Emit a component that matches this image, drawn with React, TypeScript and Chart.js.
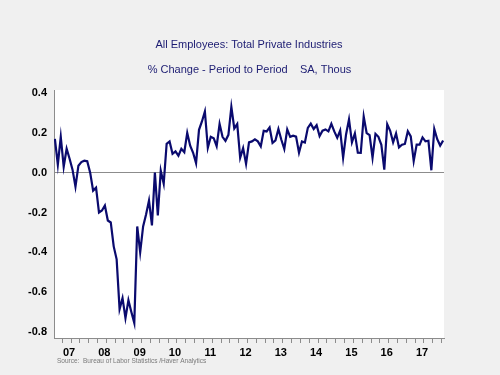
import React, { useEffect, useRef } from 'react';
import { Chart, registerables } from 'chart.js';

Chart.register(...registerables);

const TITLE = 'All Employees: Total Private Industries';
const SUBTITLE = '% Change - Period to Period    SA, Thous';
const SOURCE = 'Source:  Bureau of Labor Statistics /Haver Analytics';

const yearLabels = ['07', '08', '09', '10', '11', '12', '13', '14', '15', '16', '17'];
const yTickValues = [-0.8, -0.6, -0.4, -0.2, 0, 0.2, 0.4];

// Monthly % change, Jan 2007 onward
const y2007 = [0.17, 0.04, 0.18, 0.03, 0.12, 0.07, 0.015, -0.07, 0.035, 0.053, 0.06, 0.057];
const y2008 = [0.0, -0.09, -0.075, -0.2, -0.19, -0.165, -0.24, -0.25, -0.37, -0.435, -0.685, -0.63];
const y2009 = [-0.73, -0.64, -0.7, -0.755, -0.27, -0.4, -0.27, -0.21, -0.14, -0.265, 0.0, -0.215];
const y2010 = [0.01, -0.055, 0.145, 0.157, 0.095, 0.107, 0.085, 0.12, 0.103, 0.2, 0.135, 0.1];
const y2011 = [0.048, 0.215, 0.257, 0.307, 0.125, 0.18, 0.173, 0.133, 0.245, 0.18, 0.16, 0.19];
const y2012 = [0.33, 0.222, 0.244, 0.075, 0.123, 0.044, 0.152, 0.157, 0.167, 0.157, 0.132, 0.21];
const y2013 = [0.207, 0.227, 0.149, 0.162, 0.219, 0.165, 0.119, 0.217, 0.18, 0.186, 0.181, 0.1];
const y2014 = [0.157, 0.151, 0.225, 0.246, 0.219, 0.238, 0.184, 0.211, 0.217, 0.207, 0.245, 0.207];
const y2015 = [0.175, 0.212, 0.075, 0.192, 0.267, 0.152, 0.197, 0.1, 0.099, 0.282, 0.199, 0.188];
const y2016 = [0.075, 0.195, 0.18, 0.14, 0.015, 0.243, 0.21, 0.152, 0.197, 0.127, 0.14, 0.144];
const y2017 = [0.208, 0.182, 0.058, 0.141, 0.141, 0.177, 0.157, 0.16, 0.012, 0.219, 0.168, 0.136];
const y2018 = [0.161];

const series = [
  ...y2007, ...y2008, ...y2009, ...y2010, ...y2011, ...y2012,
  ...y2013, ...y2014, ...y2015, ...y2016, ...y2017, ...y2018,
];

const FONT = "'Liberation Sans', Arial, sans-serif";

const bgPlugin = {
  id: 'bgPlugin',
  beforeDraw(chart: any) {
    const { ctx, chartArea, width, height } = chart;
    ctx.save();
    ctx.fillStyle = '#f0f0f0';
    ctx.fillRect(0, 0, width, height);
    ctx.fillStyle = '#ffffff';
    ctx.fillRect(chartArea.left, chartArea.top, chartArea.right - chartArea.left, chartArea.bottom - chartArea.top);
    ctx.restore();
  },
  afterDraw(chart: any) {
    const { ctx, chartArea } = chart;
    ctx.save();
    ctx.fillStyle = '#1c1c72';
    ctx.font = `11px ${FONT}`;
    ctx.textBaseline = 'middle';
    ctx.textAlign = 'center';
    ctx.fillText(TITLE, 249, 45);
    ctx.fillText(SUBTITLE, 249.5, 69.5);
    ctx.fillStyle = '#7a7a7a';
    ctx.font = `6.5px ${FONT}`;
    ctx.textAlign = 'left';
    ctx.fillText(SOURCE, chartArea.left + 3, chartArea.bottom + 23);
    ctx.restore();
  },
};

export default function App() {
  const ref = useRef<HTMLCanvasElement | null>(null);

  useEffect(() => {
    if (!ref.current) return;
    const points = series.map((v, i) => ({ x: i, y: v }));
    const chart = new Chart(ref.current, {
      type: 'line',
      data: {
        datasets: [
          {
            data: points,
            borderColor: '#0a0a6e',
            borderWidth: 2.2,
            pointRadius: 0,
            tension: 0,
            fill: false,
          },
        ],
      },
      options: {
        animation: false,
        responsive: false,
        layout: { padding: { left: 0, right: 56, top: 90, bottom: 0 } },
        plugins: {
          legend: { display: false },
          tooltip: { enabled: false },
          title: { display: false },
        },
        scales: {
          x: {
            type: 'linear',
            min: -0.3,
            max: 132.3,
            afterFit(scale: any) {
              scale.height = 37;
            },
            afterBuildTicks(scale: any) {
              const t = [];
              for (let v = -0.5; v <= 132.3; v += 3) {
                if (v >= -0.3) t.push({ value: v });
              }
              scale.ticks = t;
            },
            ticks: {
              autoSkip: false,
              maxRotation: 0,
              padding: 3,
              labelOffset: -2,
              color: '#000',
              font: { family: FONT, size: 11, weight: 'bold' },
              callback(value: any) {
                const m = Number(value) + 0.5;
                if (m % 12 === 6) {
                  return yearLabels[(m - 6) / 12] ?? '';
                }
                return '';
              },
            },
            grid: {
              drawOnChartArea: false,
              drawTicks: true,
              tickLength: 5,
              color: '#8c8c8c',
            },
            border: { display: true, color: '#8c8c8c', width: 1 },
          },
          y: {
            min: -0.83,
            max: 0.415,
            afterFit(scale: any) {
              scale.width = 54;
            },
            afterBuildTicks(scale: any) {
              scale.ticks = yTickValues.map((v) => ({ value: v }));
            },
            ticks: {
              padding: 7,
              color: '#000',
              font: { family: FONT, size: 11, weight: 'bold' },
              callback(value: any) {
                return Number(value).toFixed(1);
              },
            },
            grid: {
              drawTicks: false,
              color: (ctx: any) => (ctx.tick && Math.abs(ctx.tick.value) < 1e-9 ? '#8c8c8c' : 'rgba(0,0,0,0)'),
              lineWidth: 1,
            },
            border: { display: true, color: '#8c8c8c', width: 1 },
          },
        },
      } as any,
      plugins: [bgPlugin],
    });
    return () => chart.destroy();
  }, []);

  return (
    <div style={{ position: 'fixed', left: 0, top: 0, width: 500, height: 375 }}>
      <canvas ref={ref} width={500} height={375} style={{ width: 500, height: 375, display: 'block' }} />
    </div>
  );
}
